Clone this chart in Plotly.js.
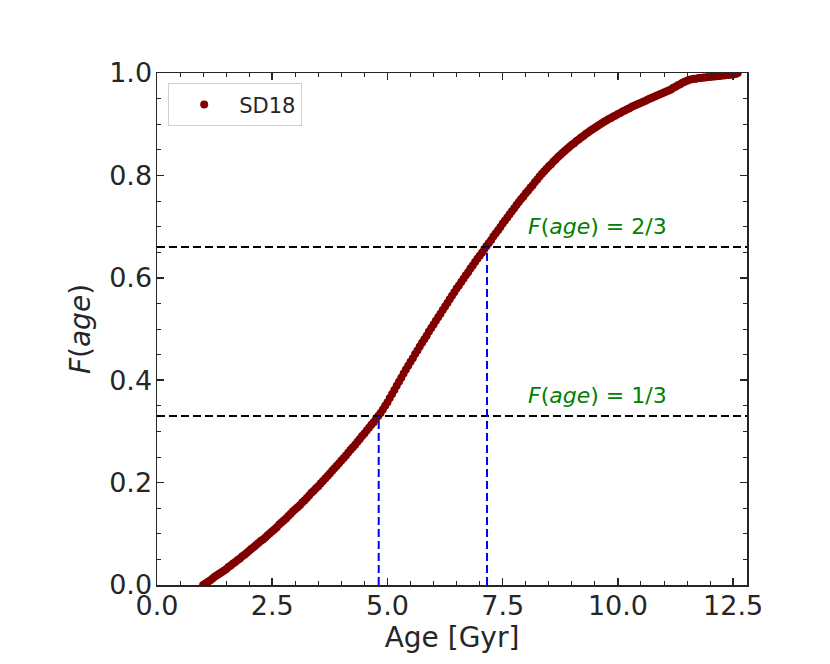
<!DOCTYPE html>
<html>
<head>
<meta charset="utf-8">
<script src="https://cdn.plot.ly/plotly-3.1.0.min.js"></script>
<style>
  html, body { margin: 0; padding: 0; background: #fff; }
  #plot { width: 830px; height: 664px; }
</style>
</head>
<body>
<div id="plot"></div>
<script>
// cumulative age distribution
const ages = [
  1.00, 1.05, 1.10, 1.15, 1.20, 1.25, 1.30, 1.35, 1.40, 1.45,
  1.50, 1.55, 1.60, 1.65, 1.70, 1.75, 1.80, 1.85, 1.90, 1.95,
  2.00, 2.05, 2.10, 2.15, 2.20, 2.25, 2.30, 2.35, 2.40, 2.45,
  2.50, 2.55, 2.60, 2.65, 2.70, 2.75, 2.80, 2.85, 2.90, 2.95,
  3.00, 3.05, 3.10, 3.15, 3.20, 3.25, 3.30, 3.35, 3.40, 3.45,
  3.50, 3.55, 3.60, 3.65, 3.70, 3.75, 3.80, 3.85, 3.90, 3.95,
  4.00, 4.05, 4.10, 4.15, 4.20, 4.25, 4.30, 4.35, 4.40, 4.45,
  4.50, 4.55, 4.60, 4.65, 4.70, 4.75, 4.80, 4.85, 4.90, 4.95,
  5.00, 5.05, 5.10, 5.15, 5.20, 5.25, 5.30, 5.35, 5.40, 5.45,
  5.50, 5.55, 5.60, 5.65, 5.70, 5.75, 5.80, 5.85, 5.90, 5.95,
  6.00, 6.05, 6.10, 6.15, 6.20, 6.25, 6.30, 6.35, 6.40, 6.45,
  6.50, 6.55, 6.60, 6.65, 6.70, 6.75, 6.80, 6.85, 6.90, 6.95,
  7.00, 7.05, 7.10, 7.15, 7.20, 7.25, 7.30, 7.35, 7.40, 7.45,
  7.50, 7.55, 7.60, 7.65, 7.70, 7.75, 7.80, 7.85, 7.90, 7.95,
  8.00, 8.05, 8.10, 8.15, 8.20, 8.25, 8.30, 8.35, 8.40, 8.45,
  8.50, 8.55, 8.60, 8.65, 8.70, 8.75, 8.80, 8.85, 8.90, 8.95,
  9.00, 9.05, 9.10, 9.15, 9.20, 9.25, 9.30, 9.35, 9.40, 9.45,
  9.50, 9.55, 9.60, 9.65, 9.70, 9.75, 9.80, 9.85, 9.90, 9.95,
  10.00, 10.05, 10.10, 10.15, 10.20, 10.25, 10.30, 10.35, 10.40, 10.45,
  10.50, 10.55, 10.60, 10.65, 10.70, 10.75, 10.80, 10.85, 10.90, 10.95,
  11.00, 11.05, 11.10, 11.15, 11.20, 11.25, 11.30, 11.35, 11.40, 11.45,
  11.50, 11.55, 11.60, 11.65, 11.70, 11.75, 11.80, 11.85, 11.90, 11.95,
  12.00, 12.05, 12.10, 12.15, 12.20, 12.25, 12.30, 12.35, 12.40, 12.45,
  12.50, 12.55, 12.60
];
const cdf = [
  0.000, 0.003, 0.006, 0.009, 0.012, 0.016, 0.019, 0.022, 0.025, 0.028,
  0.031, 0.035, 0.038, 0.042, 0.045, 0.049, 0.052, 0.056, 0.059, 0.063,
  0.067, 0.071, 0.074, 0.078, 0.082, 0.086, 0.089, 0.093, 0.097, 0.101,
  0.105, 0.109, 0.113, 0.118, 0.122, 0.126, 0.130, 0.135, 0.139, 0.144,
  0.148, 0.152, 0.156, 0.161, 0.165, 0.170, 0.175, 0.180, 0.184, 0.189,
  0.193, 0.198, 0.203, 0.208, 0.213, 0.218, 0.223, 0.228, 0.233, 0.238,
  0.243, 0.248, 0.253, 0.259, 0.264, 0.269, 0.274, 0.280, 0.285, 0.291,
  0.296, 0.302, 0.307, 0.313, 0.318, 0.324, 0.330, 0.336, 0.343, 0.350,
  0.357, 0.365, 0.373, 0.381, 0.389, 0.397, 0.405, 0.413, 0.421, 0.428,
  0.436, 0.443, 0.451, 0.458, 0.466, 0.473, 0.480, 0.487, 0.495, 0.502,
  0.509, 0.516, 0.523, 0.530, 0.537, 0.544, 0.551, 0.558, 0.565, 0.572,
  0.579, 0.585, 0.592, 0.598, 0.605, 0.611, 0.618, 0.624, 0.631, 0.637,
  0.643, 0.649, 0.656, 0.662, 0.668, 0.674, 0.681, 0.687, 0.693, 0.699,
  0.706, 0.712, 0.718, 0.724, 0.730, 0.736, 0.742, 0.748, 0.754, 0.759,
  0.765, 0.770, 0.776, 0.781, 0.787, 0.792, 0.798, 0.803, 0.808, 0.813,
  0.818, 0.822, 0.827, 0.831, 0.836, 0.840, 0.844, 0.848, 0.852, 0.856,
  0.860, 0.863, 0.867, 0.870, 0.874, 0.877, 0.881, 0.884, 0.887, 0.890,
  0.893, 0.896, 0.899, 0.902, 0.905, 0.907, 0.910, 0.912, 0.915, 0.917,
  0.920, 0.922, 0.925, 0.927, 0.929, 0.931, 0.934, 0.936, 0.938, 0.940,
  0.942, 0.944, 0.946, 0.948, 0.950, 0.952, 0.954, 0.956, 0.958, 0.960,
  0.962, 0.964, 0.966, 0.968, 0.971, 0.973, 0.976, 0.978, 0.981, 0.983,
  0.985, 0.987, 0.988, 0.989, 0.989, 0.990, 0.990, 0.991, 0.991, 0.992,
  0.992, 0.993, 0.993, 0.994, 0.994, 0.995, 0.995, 0.996, 0.996, 0.997,
  0.997, 0.998, 1.000
];

// the 1/3 and 2/3 levels and the ages where the curve crosses them
const levels = [0.33, 0.66];
const levelAges = [4.81, 7.16];
const levelLabels = ["<i>F</i>(<i>age</i>) = 1/3", "<i>F</i>(<i>age</i>) = 2/3"];
const labelAge = 8.0;
const labelOffset = 0.04;

const xRange = [0, 12.8];
const yRange = [0, 1];

const font = "DejaVu Sans, sans-serif";
const ink = "#262626";

const trace = {
  type: "scatter",
  mode: "markers",
  x: ages,
  y: cdf,
  name: "SD18",
  marker: { color: "#800000", size: 8 }
};

const shapes = [];
levels.forEach((lv, i) => {
  shapes.push({
    type: "line", xref: "paper", yref: "y",
    x0: 0, x1: 1, y0: lv, y1: lv,
    line: { color: "black", width: 2, dash: "8px,4px" },
    layer: "above"
  });
  shapes.push({
    type: "line", xref: "x", yref: "y",
    x0: levelAges[i], x1: levelAges[i], y0: 0, y1: lv,
    line: { color: "blue", width: 2, dash: "8px,4px" },
    layer: "above"
  });
});

const annotations = levels.map((lv, i) => ({
  x: labelAge, y: lv + labelOffset,
  xref: "x", yref: "y",
  text: levelLabels[i],
  showarrow: false,
  xanchor: "left", yanchor: "middle",
  font: { family: font, size: 22, color: "green" }
}));

const axisCommon = {
  showline: true,
  linecolor: ink,
  linewidth: 1.5,
  mirror: "ticks",
  ticks: "inside",
  ticklen: 7,
  tickwidth: 1.5,
  tickcolor: ink,
  showgrid: false,
  zeroline: false,
  tickfont: { family: font, size: 27, color: ink }
};

const layout = {
  width: 830,
  height: 664,
  margin: { l: 157, r: 83, t: 73, b: 79 },
  paper_bgcolor: "white",
  plot_bgcolor: "white",
  showlegend: true,
  xaxis: Object.assign({}, axisCommon, {
    range: xRange,
    dtick: 2.5,
    tickformat: ".1f",
    ticklabelstandoff: -4,
    minor: { dtick: 0.5, ticks: "inside", ticklen: 4, tickwidth: 1, tickcolor: ink },
    title: { text: "Age [Gyr]", font: { family: font, size: 28, color: ink }, standoff: 2 }
  }),
  yaxis: Object.assign({}, axisCommon, {
    range: yRange,
    dtick: 0.2,
    tickformat: ".1f",
    ticklabelstandoff: -2,
    minor: { dtick: 0.05, ticks: "inside", ticklen: 4, tickwidth: 1, tickcolor: ink },
    title: { text: "<i>F</i>(<i>age</i>)", font: { family: font, size: 28, color: ink }, standoff: 10 }
  }),
  legend: {
    x: 0.019, y: 0.98,
    xanchor: "left", yanchor: "top",
    bgcolor: "white",
    bordercolor: "#d0d0d0",
    borderwidth: 1,
    itemwidth: 60,
    font: { family: font, size: 21, color: ink }
  },
  shapes: shapes,
  annotations: annotations
};

Plotly.newPlot("plot", [trace], layout, { staticPlot: true });
</script>
</body>
</html>
